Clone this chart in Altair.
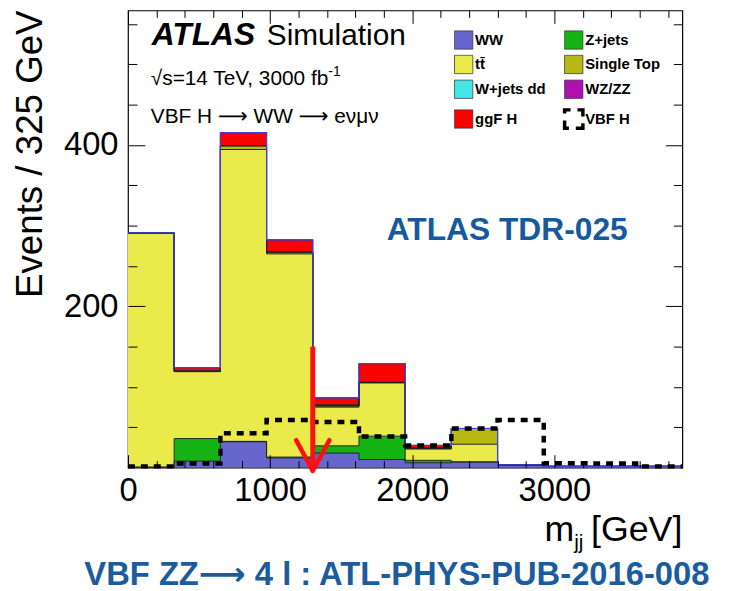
import altair as alt
import pandas as pd

# ---------------- data ----------------
bin_width = 325
n_bins = 12
x_max = 3900
y_max = 567

processes = ["WW", "Z+jets", "tt\u0304", "Single Top", "W+jets dd", "WZ/ZZ", "ggF H"]
proc_colors = ["#6666cc", "#14b414", "#eaea4a", "#b9b915", "#46e6e6", "#b010b0", "#ff0000"]

ww    = [0.5, 8, 32, 12, 18, 10, 6, 7, 3.5, 1.5, 1.5, 1.5]
zjets = [0, 28, 0.5, 1, 9, 29, 3, 0, 0, 0, 0, 0]
ttbar = [290, 83, 362, 252, 48, 66, 14, 22, 0, 0, 0, 0]
stop  = [0.5, 0.5, 4.5, 2, 1.5, 0.5, 1, 19.5, 0, 0, 0, 0]
wjets = [0, 0, 0, 0, 0, 0, 0, 0, 0, 0, 0, 0]
wzzz  = [0, 0.5, 0.5, 0.5, 1.5, 0.5, 0.5, 0, 0, 0, 0, 0]
ggfh  = [0, 4, 16, 15, 8.5, 23, 3, 0, 0, 0, 0, 0]
vbfh  = [1.5, 5, 42.5, 59, 56.5, 38.5, 27.5, 48.5, 59, 5.5, 5, 1.5]

cut_value = 1300
arrow_top = 150
arrow_tip = -4
head_dx = 117
head_dy = 34

x_major = [0, 1000, 2000, 3000]
x_minor = [200, 400, 600, 800, 1200, 1400, 1600, 1800, 2200, 2400, 2600, 2800,
           3200, 3400, 3600, 3800]
y_major = [200, 400]
y_minor = [50, 100, 150, 250, 300, 350, 450, 500, 550]

# legend is laid out column by column: left column first, then right column
legend_order = ["WW", "tt\u0304", "W+jets dd", "ggF H",
                "Z+jets", "Single Top", "WZ/ZZ", "VBF H"]
color_of = dict(zip(processes, proc_colors))
color_of["VBF H"] = "#ffffff"
legend_colors = [color_of[p] for p in legend_order]

# ---------------- tables ----------------
series = [ww, zjets, ttbar, stop, wjets, wzzz, ggfh]
edges = [i * bin_width for i in range(n_bins + 1)]
rows = []
cum = [0.0] * n_bins
for name, vals in zip(processes, series):
    new = [c + v for c, v in zip(cum, vals)]
    for i, e in enumerate(edges):
        k = min(i, n_bins - 1)
        rows.append({"process": name, "x": e, "lower": cum[k], "upper": new[k]})
    cum = new
stack_df = pd.DataFrame(rows)
total_df = pd.DataFrame({"x": edges, "total": [cum[min(i, n_bins - 1)] for i in range(n_bins + 1)]})
vbf_df = pd.DataFrame({"x": edges, "v": [vbfh[min(i, n_bins - 1)] for i in range(n_bins + 1)]})
shaft_df = pd.DataFrame({"x": [cut_value], "y": [arrow_top], "y2": [arrow_tip]})
head_df = pd.DataFrame({"x": [cut_value - head_dx, cut_value + head_dx],
                        "y": [head_dy, head_dy],
                        "x2": [cut_value, cut_value],
                        "y2": [arrow_tip, arrow_tip]})

FONT = "Liberation Sans"
x_scale = alt.Scale(domain=[0, x_max], nice=False, zero=False)
y_scale = alt.Scale(domain=[0, y_max], nice=False)


def axis(orient, values, size, labels=False, **kw):
    return alt.Axis(orient=orient, values=values, tickSize=size, offset=-size,
                    labels=labels, title=None, domain=False, grid=False,
                    tickColor="black", tickWidth=1, zindex=2, format="d",
                    labelFont=FONT, labelFontSize=33, labelColor="black",
                    labelFlush=False, labelOverlap=False, **kw)


sym_is_vbf = "datum.value === 'VBF H'"
legend = alt.Legend(
    orient="none", legendX=331, legendY=22, columns=2, title=None, padding=0,
    symbolType="square", symbolSize=340, labelFont=FONT, labelFontSize=15,
    labelFontWeight="bold", labelColor="black", labelOffset=4, columnPadding=11,
    rowPadding=2, labelLimit=300,
    symbolStrokeColor=alt.ExprRef(f"{sym_is_vbf} ? '#000000' : '#333333'"),
    symbolStrokeWidth=alt.ExprRef(f"{sym_is_vbf} ? 3.5 : 0.8"),
    symbolDash=alt.ExprRef(f"{sym_is_vbf} ? [12, 7] : [1, 0]"),
    symbolDashOffset=alt.ExprRef(f"{sym_is_vbf} ? 6 : 0"),
)

area = alt.Chart(stack_df).mark_area(interpolate="step-after").encode(
    x=alt.X("x:Q", scale=x_scale, axis=axis("bottom", x_major, 13, labels=True, labelPadding=7)),
    y=alt.Y("upper:Q", scale=y_scale, stack=None,
            axis=axis("left", y_major, 17, labels=True, labelPadding=10)),
    y2="lower:Q",
    color=alt.Color("process:N", scale=alt.Scale(domain=legend_order, range=legend_colors),
                    legend=legend),
)

outline = alt.Chart(stack_df).mark_line(interpolate="step-after", color="#222222",
                                        strokeWidth=1).encode(
    x=alt.X("x:Q", scale=x_scale, axis=axis("bottom", x_minor, 7)),
    y=alt.Y("upper:Q", scale=y_scale, axis=axis("left", y_minor, 9)),
    detail="process:N",
)

total = alt.Chart(total_df).mark_line(interpolate="step-after", color="#4040e8",
                                      strokeWidth=1.2).encode(
    x=alt.X("x:Q", scale=x_scale, axis=axis("top", x_major, 13)),
    y=alt.Y("total:Q", scale=y_scale, axis=axis("right", y_major, 17)),
)

vbf = alt.Chart(vbf_df).mark_line(interpolate="step-after", color="black", strokeWidth=4.5,
                                  strokeDash=[7, 6], strokeCap="butt").encode(
    x=alt.X("x:Q", scale=x_scale, axis=axis("top", x_minor, 7)),
    y=alt.Y("v:Q", scale=y_scale, axis=axis("right", y_minor, 9)),
)

shaft = alt.Chart(shaft_df).mark_rule(color="#ff1010", strokeWidth=5, strokeCap="butt").encode(
    x=alt.X("x:Q", scale=x_scale, axis=None),
    y=alt.Y("y:Q", scale=y_scale, axis=None),
    y2="y2:Q",
)
head = alt.Chart(head_df).mark_rule(color="#ff1010", strokeWidth=4.5, strokeCap="round").encode(
    x=alt.X("x:Q", scale=x_scale, axis=None),
    y=alt.Y("y:Q", scale=y_scale, axis=None),
    x2="x2:Q",
    y2="y2:Q",
)

# ---------------- text annotations ----------------
ARROW_FONT = "Liberation Sans, DejaVu Sans"
texts = [
    # text, x, y, style
    ("ATLAS", 24, 35, dict(fontSize=32, fontWeight="bold", fontStyle="italic")),
    ("Simulation", 140, 35, dict(fontSize=30)),
    ("\u221as=14 TeV, 3000 fb", 23, 75, dict(fontSize=21)),
    ("-1", 202, 66, dict(fontSize=14)),
    ("VBF H \u27f6 WW \u27f6 e\u03bd\u03bc\u03bd", 23, 114, dict(fontSize=21, font=ARROW_FONT)),
    ("ATLAS TDR-025", 261, 231, dict(fontSize=32, fontWeight="bold", color="#155a9e")),
    ("m", 420, 535, dict(fontSize=36)),
    ("jj", 450, 543, dict(fontSize=21)),
    ("[GeV]", 559, 535, dict(fontSize=36, align="right")),
    ("VBF ZZ\u27f6 4 l : ATL-PHYS-PUB-2016-008", -44, 579,
     dict(fontSize=33, fontWeight="bold", color="#1a5c9e", font=ARROW_FONT)),
]

layers = [area, outline, total, vbf, shaft, head]
for t, x, y, style in texts:
    st = dict(align="left", baseline="alphabetic", font=FONT, color="black")
    st.update(style)
    layers.append(alt.Chart(pd.DataFrame({"t": [t]})).mark_text(**st).encode(
        x=alt.value(x), y=alt.value(y), text="t:N"))

ytitle = alt.Chart(pd.DataFrame({"t": ["Events / 325 GeV"]})).mark_text(
    angle=270, align="right", baseline="alphabetic", font=FONT, fontSize=37, color="black"
).encode(x=alt.value(-87), y=alt.value(0), text="t:N")
layers.append(ytitle)

chart = alt.layer(*layers).resolve_axis(x="independent", y="independent").properties(
    width=559, height=461,
    autosize=alt.AutoSizeParams(type="none"),
    padding={"left": 121, "top": 0, "right": 40, "bottom": 122},
).configure_view(stroke="black", strokeWidth=1.2)

chart.save("out.html", embed_options={"renderer": "svg", "actions": False})
